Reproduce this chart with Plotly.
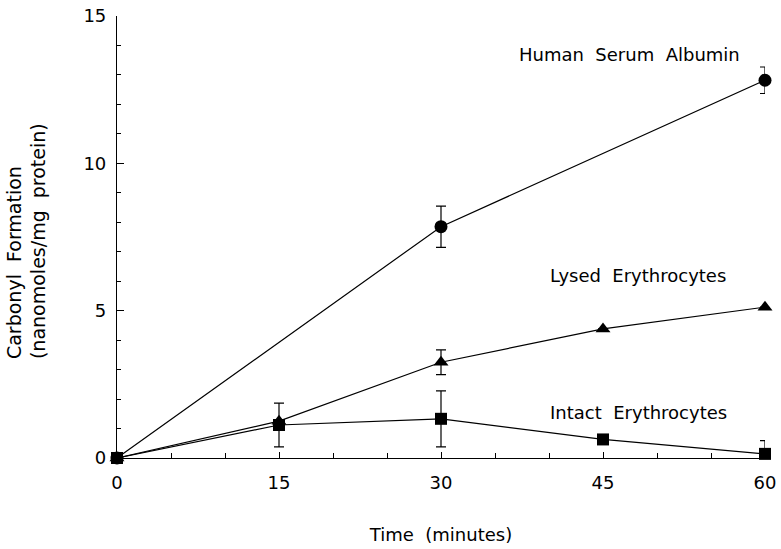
import plotly.graph_objects as go

time_hsa = [0, 30, 60]
hsa = [0, 7.85, 12.82]
hsa_err = [0, 0.7, 0.45]

time_lysed = [0, 15, 30, 45, 60]
lysed = [0, 1.25, 3.25, 4.38, 5.12]
lysed_err = [0, 0, 0.42, 0, 0]

time_intact = [0, 15, 30, 45, 60]
intact = [0, 1.12, 1.33, 0.63, 0.14]
intact_err = [0, 0.74, 0.95, 0.15, 0.45]

x_ticks = [0, 15, 30, 45, 60]
y_ticks = [0, 5, 10, 15]

FONT = "Liberation Sans"
WIDE = "DejaVu Sans"

fig = go.Figure()

def add(x, y, err, symbol, size):
    fig.add_trace(go.Scatter(
        x=x, y=y, mode="lines+markers",
        line=dict(color="black", width=1.2),
        marker=dict(symbol=symbol, size=size, color="black"),
        error_y=dict(type="data", array=err, visible=True, color="black",
                     thickness=1.2, width=5),
        showlegend=False, cliponaxis=False,
    ))

add(time_intact, intact, intact_err, "square", 12)
add(time_lysed, lysed, lysed_err, "triangle-up", 13)
add(time_hsa, hsa, hsa_err, "circle", 13)

fig.update_layout(
    width=781, height=549,
    margin=dict(l=117, r=16, t=16, b=91),
    paper_bgcolor="white", plot_bgcolor="white",
    font=dict(family=FONT, color="black"),
    xaxis=dict(
        range=[0, 60], tickvals=x_ticks, ticks="inside", ticklen=6,
        tickwidth=1, tickcolor="black", automargin=False,
        minor=dict(dtick=5, tick0=0, ticks="inside", ticklen=5, tickcolor="black"),
        showline=True, linecolor="black", linewidth=1.2, showgrid=False,
        zeroline=False, tickfont=dict(size=18, family=WIDE), ticklabelstandoff=8,
        title=dict(text="Time  (minutes)", font=dict(size=18, family=WIDE), standoff=36),
    ),
    yaxis=dict(
        range=[0, 15], tickvals=y_ticks, ticks="inside", ticklen=7,
        tickwidth=1, tickcolor="black", automargin=False,
        minor=dict(dtick=1, ticks="inside", ticklen=4, tickcolor="black"),
        showline=True, linecolor="black", linewidth=1.2, showgrid=False,
        zeroline=False, tickfont=dict(size=18, family=WIDE), ticklabelstandoff=6,
    ),
    annotations=[
        dict(text="Carbonyl  Formation<br>(nanomoles/mg  protein)", xref="paper", yref="paper",
             x=-0.14, y=0.22, xanchor="center", yanchor="bottom", textangle=-90,
             align="left", showarrow=False, font=dict(size=19, family=WIDE)),
        dict(text="Human  Serum  Albumin", x=37.0, y=13.7, xanchor="left", yanchor="middle",
             showarrow=False, font=dict(size=18, family=WIDE)),
        dict(text="Lysed  Erythrocytes", x=39.9, y=6.18, xanchor="left", yanchor="middle",
             showarrow=False, font=dict(size=18, family=WIDE)),
        dict(text="Intact  Erythrocytes", x=39.9, y=1.56, xanchor="left", yanchor="middle",
             showarrow=False, font=dict(size=18, family=WIDE)),
    ],
)

fig.write_html("out.html")
